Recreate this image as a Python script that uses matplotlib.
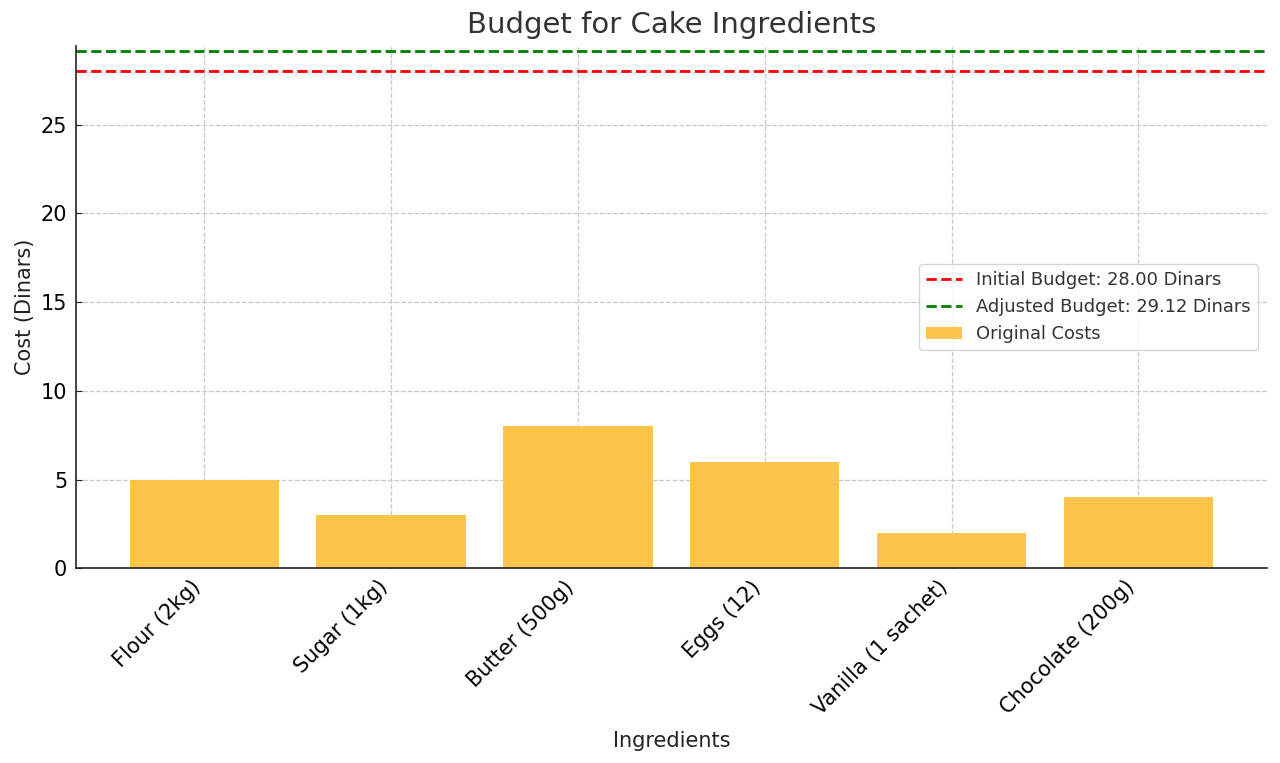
import matplotlib.pyplot as plt

ingredients = ['Flour (2kg)', 'Sugar (1kg)', 'Butter (500g)', 'Eggs (12)',
               'Vanilla (1 sachet)', 'Chocolate (200g)']
costs = [5, 3, 8, 6, 2, 4]
initial_budget = 28.00
adjusted_budget = 29.12

plt.rcParams['text.color'] = '#333333'
plt.rcParams['axes.labelcolor'] = '#222222'

fig, ax = plt.subplots(figsize=(12.8, 7.63), dpi=100)

ax.bar(ingredients, costs, color='#FDC44C', label='Original Costs', width=0.8)
ax.axhline(initial_budget, color='red', linestyle='--', linewidth=2,
           label=f'Initial Budget: {initial_budget:.2f} Dinars')
ax.axhline(adjusted_budget, color='green', linestyle='--', linewidth=2,
           label=f'Adjusted Budget: {adjusted_budget:.2f} Dinars')

ax.set_ylim(0, adjusted_budget * 1.011)
ax.set_title('Budget for Cake Ingredients', fontsize=21, pad=9)
ax.set_xlabel('Ingredients', fontsize=15, labelpad=9)
ax.set_ylabel('Cost (Dinars)', fontsize=15)
ax.tick_params(labelsize=15, direction='in', length=4, pad=6, color='#222222')
plt.setp(ax.get_xticklabels(), rotation=45, ha='right')
ax.grid(True, linestyle='--', color='#c8c8c8', linewidth=0.9)
ax.set_axisbelow(True)
ax.spines['top'].set_visible(False)
ax.spines['right'].set_visible(False)
ax.spines['left'].set_color('#222222')
ax.spines['bottom'].set_color('#222222')
ax.spines['left'].set_linewidth(1.2)
ax.spines['bottom'].set_linewidth(1.2)
ax.legend(loc='center right', fontsize=12.9)

plt.subplots_adjust(left=0.059, right=0.99, top=0.94, bottom=0.255)
plt.savefig('out.png')
